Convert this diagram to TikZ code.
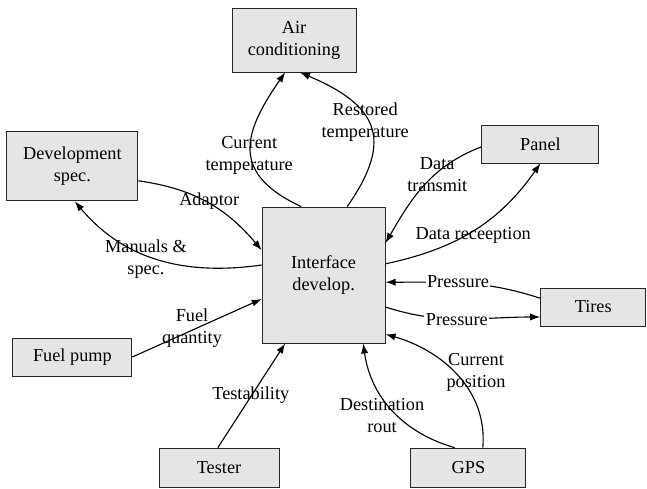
\documentclass[tikz,border=0pt]{standalone}
\usepackage{fontspec}
\setmainfont{Liberation Serif}
\usetikzlibrary{arrows.meta}
\begin{document}
\begin{tikzpicture}
      [
      >={Latex[length=2.5mm,width=1.8mm]},
      unit/.style={semithick,rectangle,draw=black!85,fill=black!10,inner sep=0pt,align=center,font=\fontsize{13}{15.6}\selectfont},
      flow/.style={inner sep=1pt,align=center,font=\fontsize{13}{15.6}\selectfont},
      gap/.style={flow,fill=white}
      ]
      \useasboundingbox (0,0) rectangle (16.175,-12.2);
      \node (0) at (8.09,-6.875) [unit,minimum width=30.75mm,minimum height=34mm] {Interface\\develop.};
      \node (1) at (7.35,-1.0) [unit,minimum width=31mm,minimum height=16mm] {Air\\conditioning};
      \node (2) at (1.81,-4.16) [unit,minimum width=32.75mm,minimum height=17.25mm] {Development\\spec.};
      \node (3) at (13.51,-3.6) [unit,minimum width=29.25mm,minimum height=9.5mm] {Panel};
      \node (4) at (1.81,-8.925) [unit,minimum width=29.75mm,minimum height=9.5mm] {Fuel pump};
      \node (5) at (5.475,-11.69) [unit,minimum width=30mm,minimum height=9.75mm] {Tester};
      \node (6) at (14.83,-7.675) [unit,minimum width=26.3mm,minimum height=9.5mm] {Tires};
      \node (7) at (11.71,-11.69) [unit,minimum width=28.75mm,minimum height=9.75mm] {GPS};
      \draw [thick, ->] ([xshift=-5.6mm]0.north) to [out=155, in=235, looseness=1.45] ([xshift=-2.2mm]1.south);
      \draw [thick, ->] ([xshift=5.9mm]0.north) to [out=55, in=-23, looseness=1.5] ([xshift=1.5mm]1.south);
      \draw [thick, ->] ([yshift=-3.6mm]2.east) to [out=-8, in=130] ([yshift=6.2mm]0.west);
      \draw [thick, ->] ([yshift=2.5mm]0.west) to [out=188, in=-50] ([xshift=0.6mm]2.south);
      \draw [thick, ->] (4.east) to ([yshift=-6mm]0.west);
      \draw [thick, ->] ([xshift=-0.3mm]5.north) to ([xshift=-9.6mm]0.south);
      \draw [thick, ->] ([yshift=-0.7mm]3.west) to [out=201, in=60] ([yshift=8mm]0.east);
      \draw [thick, ->] ([yshift=2.8mm]0.east) to [out=12, in=235] (3.south);
      \draw [thick, ->] ([yshift=2.2mm]6.west) to [out=162, in=0] ([yshift=-1.8mm]0.east);
      \draw [thick, ->] ([yshift=-8mm]0.east) to [out=-18, in=180] ([yshift=-2.5mm]6.west);
      \draw [thick, ->] ([xshift=3.6mm]7.north) to [out=85, in=-16] ([yshift=-14.8mm]0.east);
      \draw [thick, ->] ([xshift=-3.4mm]7.north) to [out=164, in=-82] ([xshift=9.9mm]0.south);
      \node (t1) at (6.23,-3.88) [flow] {Current\\temperature};
      \node (t2) at (9.13,-3.05) [flow] {Restored\\temperature};
      \node (t3) at (5.23,-5.02) [flow] {Adaptor};
      \node (t4) at (3.65,-6.48) [flow] {Manuals \&\\spec.};
      \node (t5) at (4.8,-8.2) [flow] {Fuel\\quantity};
      \node (t6) at (6.27,-9.88) [flow] {Testability};
      \node (t7) at (10.93,-4.37) [flow] {Data\\transmit};
      \node (t8) at (11.83,-5.88) [flow] {Data receeption};
      \node (t9) at (11.45,-7.05) [gap] {Pressure};
      \node (t10) at (11.42,-8.0) [gap] {Pressure};
      \node (t11) at (11.9,-9.3) [flow] {Current\\position};
      \node (t12) at (9.55,-10.38) [flow] {Destination\\rout};
    \end{tikzpicture}
\end{document}
